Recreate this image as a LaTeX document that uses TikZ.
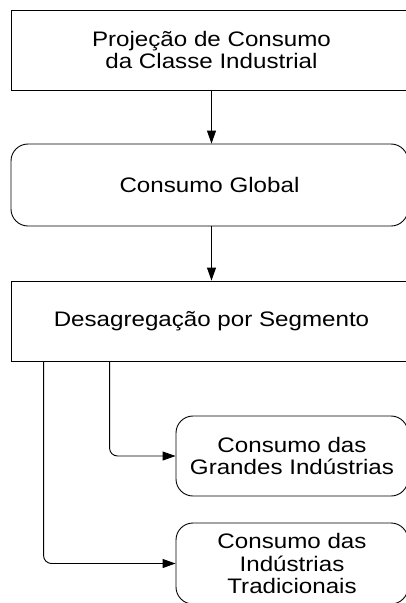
\documentclass[tikz,border=0pt]{standalone}
\usepackage{fontspec}
\setmainfont[FakeStretch=1.15]{Liberation Sans}
\usetikzlibrary{arrows.meta}

\begin{document}
\begin{tikzpicture}[x=1pt,y=-1pt,
    font=\fontsize{21}{22.5}\selectfont, line width=0.9pt,
    etapa/.style={draw,align=center,inner sep=0pt,minimum height=80pt},
    redonda/.style={etapa,rounded corners=17pt},
    seta/.style={-{Triangle[length=13pt,width=9pt]}}]
  \useasboundingbox (0,0) rectangle (406,603);
  \node[etapa,minimum width=401pt]                       (proj)    at (211.5,50)  {Projeção de Consumo\\da Classe Industrial};
  \node[redonda,minimum width=397pt,minimum height=82pt] (global)  at (209.5,185) {Consumo Global};
  \node[etapa,minimum width=401pt]                       (desag)   at (211.5,321) {Desagregação por Segmento};
  \node[redonda,minimum width=232pt]                     (grandes) at (292,456)   {Consumo das\\Grandes Indústrias};
  \node[redonda,minimum width=232pt,minimum height=81pt] (trad)    at (292,563.5) {Consumo das\\Indústrias\\Tradicionais};
  \draw[seta] (proj.south) -- (proj.south |- global.north);
  \draw[seta] (proj.south |- global.south) -- (desag.north);
  \begin{scope}[rounded corners=8pt]
    \draw[seta] ([xshift=99pt]desag.south west) |- (grandes.west);
    \draw[seta] ([xshift=33pt]desag.south west) |- (trad.west);
  \end{scope}
\end{tikzpicture}
\end{document}
